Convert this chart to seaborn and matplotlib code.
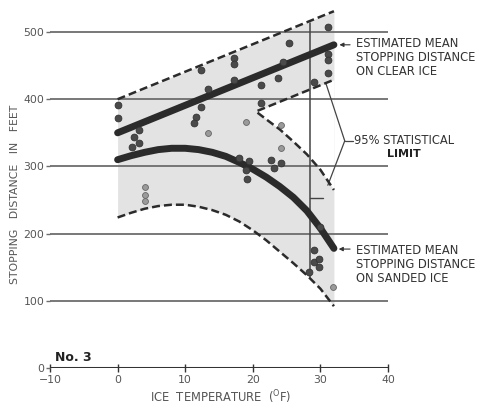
import numpy as np
import pandas as pd
import matplotlib
matplotlib.use("Agg")
import matplotlib.pyplot as plt
import seaborn as sns

# Ice temperature (deg F) grid used for the fitted curves
temp_grid = [0, 2, 4, 6, 8, 10, 12, 14, 16, 18, 20, 22, 24, 26, 28, 30, 32]

# Clear ice: mean stopping distance and 95% limits (straight lines)
clear_temp = [0, 32]
clear_mean = [350, 481]
clear_upper = [400, 531]
clear_lower = [298, 429]

# Sanded ice: mean stopping distance and 95% limits
sanded_mean = [310, 316, 321, 325, 327, 327, 325, 321, 315, 306, 296, 284, 270, 254, 234, 208, 178]
sanded_lower = [224, 231, 237, 241, 243, 243, 240, 235, 228, 218, 205, 190, 173, 156, 138, 118, 92]
sanded_upper_temp = [20.7, 22, 24, 26, 28, 30, 32]
sanded_upper = [380, 370, 355, 337, 318, 295, 265]

# Observed stopping distances
obs_temp = [0.1, 0.1, 2.4, 3.1, 2.2, 3.1,
            12.3, 13.3, 12.3, 11.6, 11.3,
            17.2, 17.2, 17.2,
            17.9, 19.4, 19.0, 19.2,
            25.3, 24.4, 23.7, 21.2, 21.2,
            31.1, 31.1, 31.1, 31.1, 29.0,
            22.7, 24.1, 23.1,
            30.0, 29.0, 29.0, 29.8, 28.3, 29.8]
obs_dist = [391, 372, 344, 354, 329, 335,
            443, 415, 388, 374, 364,
            462, 452, 429,
            312, 308, 295, 282,
            484, 455, 431, 421, 394,
            508, 468, 458, 439, 426,
            309, 305, 298,
            210, 176, 158, 150, 143, 162]
faint_temp = [13.3, 19.0, 24.1, 4.1, 4.1, 4.1, 24.1, 31.9]
faint_dist = [350, 366, 327, 270, 258, 249, 362, 121]

y_ticks = [0, 100, 200, 300, 400, 500]
x_ticks = [-10, 0, 10, 20, 30, 40]

sns.set_theme(style="white")
plt.rcParams["font.family"] = ["DejaVu Sans"]

fig = plt.figure(figsize=(4.83, 4.08), dpi=100)
ax = fig.add_axes([50 / 483, 40 / 408, 338 / 483, 366.2 / 408])
ax.set_xlim(-10, 40)
ax.set_ylim(0, 545)

shade = "#e3e3e3"
ink = "#2b2b2b"

# Shaded confidence region (union of both bands)
tg = np.array(temp_grid, dtype=float)
cu = np.interp(tg, clear_temp, clear_upper)
ax.fill_between(tg, sanded_lower, cu, color=shade, lw=0, zorder=1)
# Unshaded notch between the two bands
nt = np.array(sanded_upper_temp, dtype=float)
ax.fill_between(nt, sanded_upper, np.interp(nt, clear_temp, clear_lower),
                color="white", lw=0, zorder=1.2)

# Horizontal grid lines
for v in y_ticks[1:]:
    ax.axhline(v, color="#6d6d6d", lw=1.3, zorder=2)

# Bottom axis
ax.axhline(0, color="#333333", lw=2.2, zorder=3)

# Fitted curves
sns.lineplot(x=clear_temp, y=clear_mean, ax=ax, color=ink, lw=5, zorder=4)
sns.lineplot(x=temp_grid, y=sanded_mean, ax=ax, color=ink, lw=5, zorder=4)
dash = dict(color=ink, lw=1.8, zorder=4, linestyle=(0, (3.2, 1.6)))
sns.lineplot(x=clear_temp, y=clear_upper, ax=ax, **dash)
sns.lineplot(x=[20.7, 32], y=list(np.interp([20.7, 32], clear_temp, clear_lower)), ax=ax, **dash)
sns.lineplot(x=temp_grid, y=sanded_lower, ax=ax, **dash)
sns.lineplot(x=sanded_upper_temp, y=sanded_upper, ax=ax, **dash)

# Observations
sns.scatterplot(x=obs_temp, y=obs_dist, ax=ax, color="#4a4a4a", s=24,
                edgecolor="#333333", linewidth=0.6, zorder=5)
sns.scatterplot(x=faint_temp, y=faint_dist, ax=ax, color="#9a9a9a", s=18,
                edgecolor="#666666", linewidth=0.6, zorder=5)

# Vertical reference line near 28.5 F
ax.plot([28.5, 28.5], [136, 513], color="#444444", lw=1.1, zorder=3)
ax.plot([28.5, 30.4], [253, 253], color="#444444", lw=1.0, zorder=3)

# Ticks and labels
ax.set_yticks(y_ticks)
ax.set_yticklabels([str(v) for v in y_ticks], fontsize=7.8, color="#555555")
ax.set_xticks(x_ticks)
ax.set_xticklabels(["\u221210" if v < 0 else str(v) for v in x_ticks], fontsize=7.8, color="#555555")
ax.tick_params(axis="y", length=3, width=1, color="#6d6d6d", pad=1, left=True)
ax.tick_params(axis="x", direction="inout", length=6, width=1, color="#333333", pad=2, bottom=True)
for s in ax.spines.values():
    s.set_visible(False)
ax.set_facecolor("none")

fig.text(15 / 483, 1 - 194 / 408, "STOPPING   DISTANCE   IN   FEET", rotation=90,
         ha="center", va="center", fontsize=7.8, color="#555555")
fig.text(221 / 483, 1 - 397 / 408, "ICE  TEMPERATURE  ($^{\\mathrm{O}}$F)",
         ha="center", va="center", fontsize=8.3, color="#555555")
ax.text(-9.2, 6, "No. 3", fontsize=9, fontweight="bold", color="#222222", va="bottom")

# Callouts
txt = dict(fontsize=8.3, color="#333333", linespacing=1.1, va="top", ha="left")
ax.text(35.3, 493, "ESTIMATED MEAN\nSTOPPING DISTANCE\nON CLEAR ICE", **txt)
ax.annotate("", xy=(32.4, 481), xytext=(34.8, 481),
            arrowprops=dict(arrowstyle="-|>", color="#333333", lw=0.8, mutation_scale=6))
ax.text(35.3, 184, "ESTIMATED MEAN\nSTOPPING DISTANCE\nON SANDED ICE", **txt)
ax.annotate("", xy=(32.3, 177), xytext=(34.8, 177),
            arrowprops=dict(arrowstyle="-|>", color="#333333", lw=0.8, mutation_scale=6))

ax.plot([33.6, 30.8], [338, 424], color="#444444", lw=0.9, zorder=3, clip_on=False)
ax.plot([33.6, 31.1], [338, 272], color="#444444", lw=0.9, zorder=3, clip_on=False)
ax.plot([33.6, 34.8], [338, 338], color="#444444", lw=0.9, zorder=3, clip_on=False)
ax.text(34.9, 338, "95% STATISTICAL", fontsize=8.3, color="#333333", va="center", ha="left")
ax.text(39.9, 319, "LIMIT", fontsize=8.0, color="#222222", va="center", ha="left", fontweight="bold")

fig.savefig("out.png", dpi=100)
